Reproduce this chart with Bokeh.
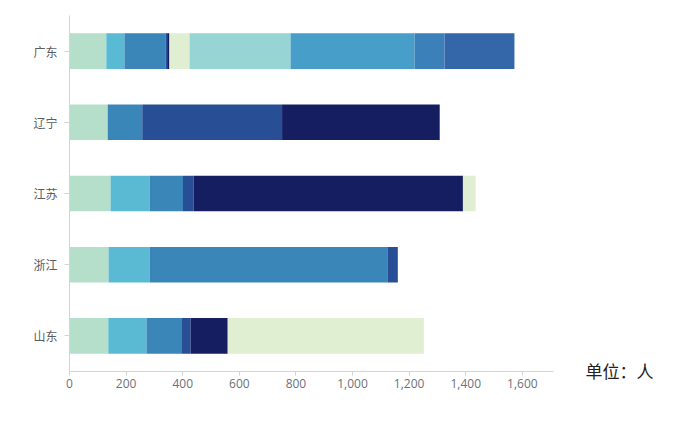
from bokeh.plotting import figure
from bokeh.layouts import row
from bokeh.models import ColumnDataSource, Range1d, FactorRange, FixedTicker, NumeralTickFormatter, Label
from bokeh.embed import file_html
from bokeh.resources import INLINE

# ---- data ----
provinces = ["山东", "浙江", "江苏", "辽宁", "广东"]  # bottom to top
series = ["s1", "s2", "s3", "s4", "s5", "s6", "s7", "s8", "s9", "s10"]
# values per series, order matches provinces (山东, 浙江, 江苏, 辽宁, 广东)
s1 = [137, 138, 145, 135, 130]
s2 = [135, 146, 138, 0, 64]
s3 = [123, 841, 118, 122, 145]
s4 = [33, 35, 38, 494, 6]
s5 = [131, 0, 951, 557, 8]
s6 = [693, 0, 45, 0, 71]
s7 = [0, 0, 0, 0, 357]
s8 = [0, 0, 0, 0, 438]
s9 = [0, 0, 0, 0, 106]
s10 = [0, 0, 0, 0, 247]
colors = ["#b6dfcb", "#5bbad3", "#3a86b9", "#284f96", "#161e62",
          "#e0efd1", "#97d4d4", "#479ec8", "#3b80b8", "#3466aa"]
x_ticks = [0, 200, 400, 600, 800, 1000, 1200, 1400, 1600]
unit_text = "单位：人"

source = ColumnDataSource(dict(province=provinces, s1=s1, s2=s2, s3=s3, s4=s4, s5=s5,
                               s6=s6, s7=s7, s8=s8, s9=s9, s10=s10))

p = figure(y_range=FactorRange(*provinces, range_padding=0), x_range=Range1d(0, 1710),
           frame_width=484, frame_height=356,
           min_border_left=69, min_border_right=7, min_border_top=15, min_border_bottom=37,
           output_backend="svg", toolbar_location=None, tools="")

p.hbar_stack(series, y="province", height=0.5, color=colors, line_color=None, source=source)

p.outline_line_color = None
p.xgrid.grid_line_color = None
p.ygrid.grid_line_color = None
p.background_fill_color = "white"
p.border_fill_color = "white"

ax = p.xaxis[0]
ax.ticker = FixedTicker(ticks=x_ticks)
ax.formatter = NumeralTickFormatter(format="0,0")
ax.axis_line_color = "#d4d4d4"
ax.major_tick_line_color = "#d4d4d4"
ax.major_tick_out = 4
ax.major_tick_in = 0
ax.minor_tick_line_color = None
ax.major_label_standoff = 3
ax.major_label_text_font = "Open Sans"
ax.major_label_text_font_size = "12px"
ax.major_label_text_color = "#6e7079"

ay = p.yaxis[0]
ay.axis_line_color = "#d4d4d4"
ay.major_tick_line_color = "#d4d4d4"
ay.major_tick_out = 5
ay.major_tick_in = 0
ay.minor_tick_line_color = None
ay.major_label_standoff = 7
ay.major_label_text_font = "Noto Sans CJK SC"
ay.major_label_text_font_size = "12px"
ay.major_label_text_color = "#5a5c66"

# side panel holding the unit note (so it is not clipped by the main frame)
# its ranges are in pixels, measured from the top-left corner
side = figure(frame_width=120, frame_height=408, x_range=Range1d(0, 120), y_range=Range1d(408, 0),
              x_axis_type=None, y_axis_type=None,
              min_border_left=0, min_border_right=0, min_border_top=0, min_border_bottom=0,
              output_backend="svg", toolbar_location=None, tools="")
side.outline_line_color = None
side.xgrid.grid_line_color = None
side.ygrid.grid_line_color = None
side.border_fill_color = "white"
side.add_layout(Label(x=25, y=355, text=unit_text,
                      text_font="Noto Sans CJK SC", text_font_size="17px",
                      text_color="#222222", text_align="left", text_baseline="middle"))

layout = row(p, side)
open("out.html", "w").write(file_html(layout, INLINE))
